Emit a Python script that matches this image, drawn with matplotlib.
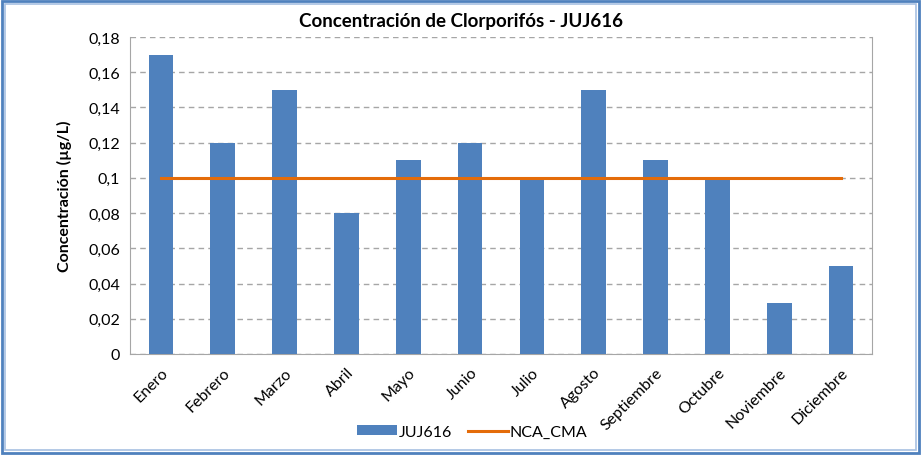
import matplotlib.pyplot as plt
from matplotlib.patches import Rectangle
import numpy as np

# datos mensuales
meses = ["Enero", "Febrero", "Marzo", "Abril", "Mayo", "Junio", "Julio",
         "Agosto", "Septiembre", "Octubre", "Noviembre", "Diciembre"]
juj616 = [0.17, 0.12, 0.15, 0.08, 0.11, 0.12, 0.10, 0.15, 0.11, 0.10, 0.029, 0.05]
nca_cma = [0.1] * 12
yticks = [0, 0.02, 0.04, 0.06, 0.08, 0.1, 0.12, 0.14, 0.16, 0.18]
ylabels = ["0", "0,02", "0,04", "0,06", "0,08", "0,1", "0,12", "0,14", "0,16", "0,18"]

plt.rcParams['font.family'] = ['Lato', 'DejaVu Sans']

fig = plt.figure(figsize=(9.21, 4.56), dpi=100)
ax = fig.add_axes([130/921, 1 - 355/456, 742/921, 317/456])

x = np.arange(len(meses))
barras = ax.bar(x, juj616, width=0.4, color='#4F81BD', label='JUJ616', zorder=3)
linea, = ax.plot(x, nca_cma, color='#E46C0A', linewidth=2.2, label='NCA_CMA', zorder=4)

ax.set_xlim(-0.5, len(meses) - 0.5)
ax.set_ylim(0, 0.18)
ax.set_yticks(yticks)
ax.set_yticklabels(ylabels, fontsize=11.5)
ax.set_xticks(x)
ax.set_xticklabels(meses, rotation=45, ha='right', rotation_mode='anchor', fontsize=11.5)
ax.tick_params(axis='both', length=0, pad=7)
ax.tick_params(axis='x', pad=8)
ax.yaxis.grid(True, linestyle=(0, (4, 3)), color='#A6A6A6', linewidth=1, zorder=0)

for s in ['left', 'bottom', 'right']:
    ax.spines[s].set_color('#A6A6A6')
ax.spines['top'].set_visible(False)

ax.set_ylabel('Concentración (µg/L)', fontsize=11.5, fontweight='bold', labelpad=12)
fig.text(0.5, 1 - 21/456, 'Concentración de Clorporifós - JUJ616',
         ha='center', va='center', fontsize=13.5, fontweight='bold')

fig.legend([barras, linea], ['JUJ616', 'NCA_CMA'], loc='center',
           bbox_to_anchor=(472/921, 1 - 433/456), ncol=2,
           frameon=False, fontsize=11.5, handlelength=2.5, handleheight=0.6,
           columnspacing=1.0, handletextpad=0.1)

# marco azul doble
fig.patches.append(Rectangle((2/921, 2/456), 917/921, 452/456, transform=fig.transFigure,
                             fill=False, edgecolor='#4F81BD', linewidth=2))
fig.patches.append(Rectangle((5/921, 5/456), 911/921, 446/456, transform=fig.transFigure,
                             fill=False, edgecolor='#A7C0E2', linewidth=1.2))

fig.savefig('out.png', dpi=100)
